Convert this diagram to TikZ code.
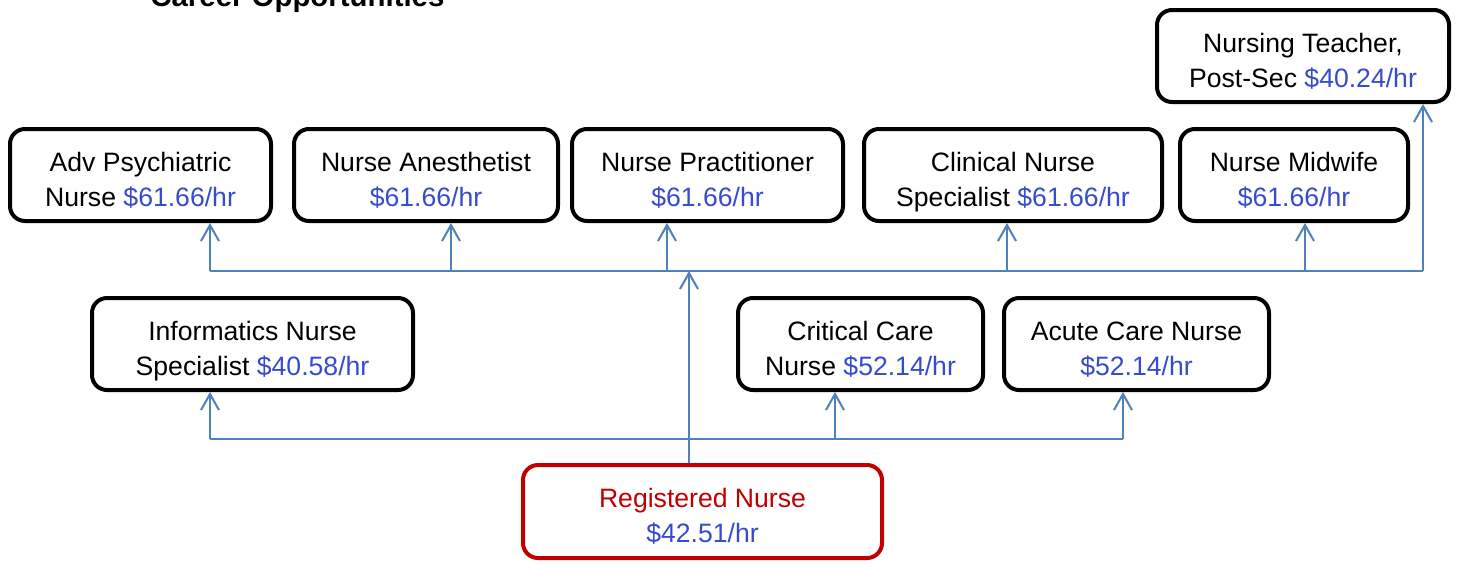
\documentclass[tikz,border=0pt]{standalone}
\usepackage{fontspec}
\setmainfont{Liberation Sans}
\usetikzlibrary{arrows.meta}
\definecolor{pay}{RGB}{55,75,205}
\definecolor{conn}{RGB}{79,129,189}
\definecolor{rnred}{RGB}{192,0,0}
\newcommand\twolines[2]{\raisebox{-3.3pt}[\height][\depth]{\begin{tabular}{@{}c@{}}#1\\#2\end{tabular}}}
\begin{document}
\begin{tikzpicture}[x=0.5pt,y=-0.5pt,
  box/.style={draw=black, line width=2pt, rounded corners=7.5pt,
    minimum height=46pt, inner sep=2pt, font=\fontsize{13.3}{17.5}\selectfont},
  rnbox/.style={box, draw=rnred, text=rnred},
  link/.style={draw=conn, line width=1pt},
  up/.style={link, -{Straight Barb[length=8pt,width=9pt,line width=1pt]}},
  title/.style={font=\bfseries\fontsize{14.7}{17}\selectfont, anchor=base west, inner sep=0pt}]
\useasboundingbox (0,0) rectangle (1461,563);
\fill[white] (0,0) rectangle (1461,563);

\node[title] (ttl) at (150,6) {Career Opportunities};

% top row
\node[box, minimum width=146pt] (teach) at (1303,56) {\twolines{Nursing Teacher,}{Post-Sec \textcolor{pay}{\$40.24/hr}}};
\node[box, minimum width=130.5pt] (adv) at (140.5,175) {\twolines{Adv Psychiatric}{Nurse \textcolor{pay}{\$61.66/hr}}};
\node[box, minimum width=132pt] (anes) at (426,175) {\twolines{Nurse Anesthetist}{\textcolor{pay}{\$61.66/hr}}};
\node[box, minimum width=135.5pt] (prac) at (707.5,175) {\twolines{Nurse Practitioner}{\textcolor{pay}{\$61.66/hr}}};
\node[box, minimum width=149pt] (clin) at (1013,175) {\twolines{Clinical Nurse}{Specialist \textcolor{pay}{\$61.66/hr}}};
\node[box, minimum width=114pt] (midw) at (1294,175) {\twolines{Nurse Midwife}{\textcolor{pay}{\$61.66/hr}}};

% middle row
\node[box, minimum width=160.5pt] (info) at (252.5,344) {\twolines{Informatics Nurse}{Specialist \textcolor{pay}{\$40.58/hr}}};
\node[box, minimum width=122.5pt] (crit) at (860.5,344) {\twolines{Critical Care}{Nurse \textcolor{pay}{\$52.14/hr}}};
\node[box, minimum width=132.5pt] (acute) at (1136.5,344) {\twolines{Acute Care Nurse}{\textcolor{pay}{\$52.14/hr}}};

% bottom
\node[rnbox, minimum width=179.5pt, minimum height=46.5pt] (rn) at (702.5,511.5) {\twolines{Registered Nurse}{\textcolor{pay}{\$42.51/hr}}};

% top bus
\coordinate (hub) at (689,271);
\coordinate (tA) at (210,271);
\coordinate (tB) at (451,271);
\coordinate (tC) at (667,271);
\coordinate (tD) at (1007,271);
\coordinate (tE) at (1305,271);
\coordinate (tF) at (1423,271);
\draw[link] (tA) -- (tF);
\draw[up] (tA) -- (tA |- adv.south);
\draw[up] (tB) -- (tB |- anes.south);
\draw[up] (tC) -- (tC |- prac.south);
\draw[up] (tD) -- (tD |- clin.south);
\draw[up] (tE) -- (tE |- midw.south);
\draw[up] (tF) -- (tF |- teach.south);
\draw[up] (rn.north -| hub) -- (hub);

% bottom bus
\coordinate (bA) at (210,439);
\coordinate (bB) at (835,439);
\coordinate (bC) at (1123,439);
\draw[link] (bA) -- (bC);
\draw[up] (bA) -- (bA |- info.south);
\draw[up] (bB) -- (bB |- crit.south);
\draw[up] (bC) -- (bC |- acute.south);
\end{tikzpicture}
\end{document}
